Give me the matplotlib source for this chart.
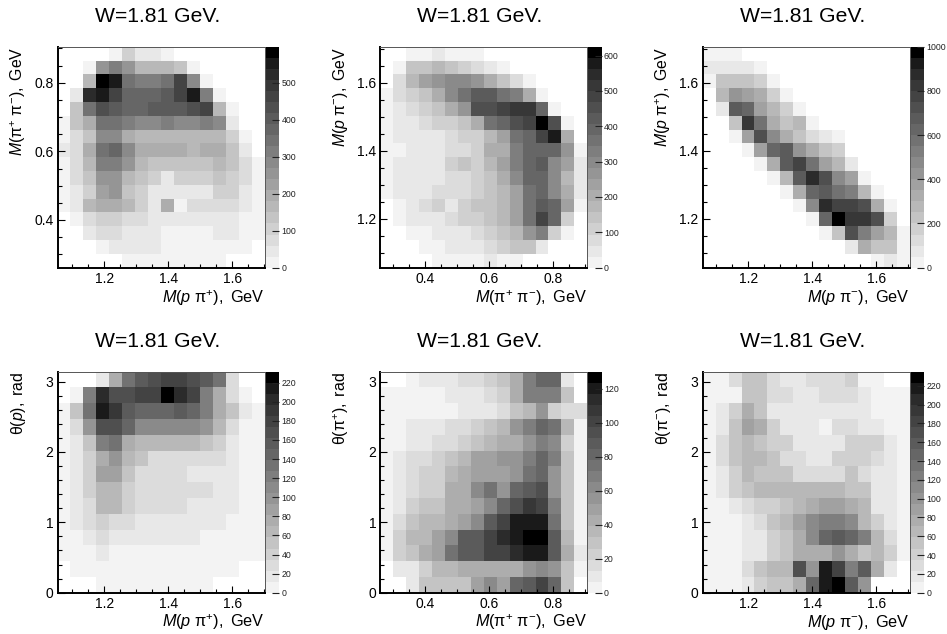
import numpy as np
import matplotlib
matplotlib.use("Agg")
import matplotlib.pyplot as plt
from matplotlib.colors import ListedColormap, BoundaryNorm
from matplotlib.ticker import MultipleLocator, FormatStrFormatter

plt.rcParams['font.family'] = ['Liberation Sans', 'DejaVu Sans']
plt.rcParams['mathtext.fontset'] = 'custom'
plt.rcParams['mathtext.rm'] = 'Liberation Sans'
plt.rcParams['mathtext.it'] = 'Liberation Sans:italic'
plt.rcParams['mathtext.bf'] = 'Liberation Sans:bold'

TITLE = "W=1.81 GeV."
N_BANDS = 20
SHADES = ['#f3f3f3','#e8e8e8','#dcdcdc','#d0d0d0','#c4c4c4','#b8b8b8','#adadad','#a1a1a1','#959595','#8a8a8a',
          '#7e7e7e','#727272','#666666','#5b5b5b','#4f4f4f','#434343','#373737','#2b2b2b','#1a1a1a','#000000']

# Each grid: rows listed top to bottom, cells given as palette band (0 = empty)
grid_ppip_pippim = [
 [0,0,0,0,1,4,2,2,1,0,0,0,0,0,0,0],
 [0,0,1,9,11,9,6,6,6,5,1,0,0,0,0,0],
 [0,0,6,20,19,12,11,11,12,16,10,1,0,0,0,0],
 [0,2,18,19,16,13,13,13,14,16,19,11,1,0,0,0],
 [0,5,12,15,14,13,13,14,14,14,15,16,6,1,0,0],
 [1,5,7,12,12,11,10,10,11,10,10,11,10,2,0,0],
 [1,3,5,10,10,7,6,6,6,6,6,6,6,4,1,0],
 [2,3,7,12,13,10,7,7,7,7,6,7,7,5,2,0],
 [1,3,6,11,11,9,6,5,5,5,5,5,6,5,3,1],
 [1,3,5,9,9,6,5,4,2,4,4,4,5,4,3,1],
 [1,2,4,8,9,5,4,2,2,2,2,2,4,4,2,1],
 [1,2,6,7,7,6,4,2,7,1,3,3,3,3,2,1],
 [0,1,3,4,4,3,3,2,2,2,2,2,2,2,1,1],
 [0,0,2,3,3,2,2,2,1,1,1,1,2,2,1,1],
 [0,0,0,1,2,2,2,2,1,1,1,1,1,1,1,0],
 [0,0,0,0,0,1,1,1,1,1,1,1,1,0,0,0],
]
grid_pippim_ppim = [
 [0,0,1,1,2,1,1,1,0,0,0,0,0,0,0,0],
 [0,1,5,5,6,5,4,3,2,1,0,0,0,0,0,0],
 [0,3,6,8,9,10,10,9,7,5,3,1,0,0,0,0],
 [1,3,4,5,7,10,12,14,14,12,11,7,1,0,0,0],
 [1,2,3,4,5,7,9,15,15,16,17,17,13,1,0,0],
 [1,2,2,3,4,4,5,7,12,13,15,16,20,15,1,0],
 [1,2,2,2,2,3,4,4,6,8,12,13,16,19,7,0],
 [1,1,2,2,2,3,3,4,7,7,11,13,13,13,9,1],
 [1,2,2,2,2,4,5,4,6,8,11,13,14,10,8,2],
 [1,2,2,2,2,3,3,4,5,7,10,13,13,10,6,2],
 [1,2,2,2,3,3,3,4,5,6,8,12,13,10,7,2],
 [0,1,2,3,4,2,4,5,5,6,8,12,14,13,8,1],
 [0,1,2,2,2,3,4,4,5,6,8,12,16,13,4,0],
 [0,0,1,1,2,2,2,3,4,5,6,9,11,4,1,0],
 [0,0,0,1,1,2,2,2,3,4,5,5,2,0,0,0],
 [0,0,0,0,1,1,1,1,2,1,1,0,0,0,0,0],
]
grid_ppim_ppip = [
 [1,1,1,0,0,0,0,0,0,0,0,0,0,0,0,0],
 [2,2,2,2,1,0,0,0,0,0,0,0,0,0,0,0],
 [1,5,5,5,4,1,0,0,0,0,0,0,0,0,0,0],
 [0,6,9,8,7,4,1,0,0,0,0,0,0,0,0,0],
 [0,2,14,13,8,6,4,1,0,0,0,0,0,0,0,0],
 [0,0,5,17,12,7,5,6,1,0,0,0,0,0,0,0],
 [0,0,1,8,15,10,7,5,3,2,1,0,0,0,0,0],
 [0,0,0,1,8,13,14,9,7,5,4,0,0,0,0,0],
 [0,0,0,0,1,7,14,16,12,8,6,2,0,0,0,0],
 [0,0,0,0,0,1,6,14,18,15,10,8,1,0,0,0],
 [0,0,0,0,0,0,1,7,13,14,12,11,6,1,0,0],
 [0,0,0,0,0,0,0,1,10,18,16,16,15,7,1,0],
 [0,0,0,0,0,0,0,0,1,13,20,17,17,15,4,0],
 [0,0,0,0,0,0,0,0,0,1,5,15,11,8,6,1],
 [0,0,0,0,0,0,0,0,0,0,0,2,7,5,5,1],
 [0,0,0,0,0,0,0,0,0,0,0,0,0,1,2,1],
]
grid_ppip_thp = [
 [0,0,0,2,7,12,14,15,16,16,15,14,12,3,0,0],
 [0,1,11,18,15,15,16,16,20,18,16,11,7,3,1,0],
 [1,5,12,19,17,14,13,13,13,14,13,11,7,5,2,1],
 [1,3,9,15,15,13,10,10,10,10,10,9,6,3,1,1],
 [1,2,5,11,12,7,6,6,6,6,6,5,4,2,1,1],
 [1,2,4,7,9,6,5,3,3,3,3,3,3,2,1,1],
 [1,2,4,8,8,5,3,3,3,3,2,2,2,2,1,1],
 [1,2,4,6,6,4,3,3,3,3,3,3,2,2,1,1],
 [1,2,3,6,6,4,3,3,3,3,2,2,2,2,1,1],
 [1,2,3,4,3,3,2,2,2,2,2,2,2,1,1,1],
 [1,1,2,3,2,2,2,2,2,2,2,1,1,1,1,1],
 [1,1,1,2,1,1,1,1,1,1,1,1,1,1,1,1],
 [0,1,1,1,1,1,1,1,1,1,1,1,1,1,0,0],
 [0,0,0,1,1,1,1,1,1,1,1,1,0,0,0,0],
]
grid_pippim_thpip = [
 [0,0,1,2,2,2,3,3,4,5,7,11,13,13,2,0],
 [1,1,1,1,1,2,2,2,3,4,7,11,11,11,5,0],
 [1,1,1,1,1,1,2,2,2,3,5,6,9,4,3,3],
 [1,1,2,2,2,3,3,4,5,6,9,11,13,12,6,1],
 [1,1,2,2,3,3,4,5,6,7,7,9,11,10,4,1],
 [1,2,3,3,4,5,6,8,8,9,9,11,13,11,5,1],
 [1,2,3,4,4,6,7,8,8,8,9,12,13,9,5,1],
 [1,2,3,4,4,7,7,10,12,9,13,14,15,9,5,1],
 [1,2,4,5,5,7,7,8,10,13,15,17,16,11,5,1],
 [1,3,5,6,6,7,8,10,14,16,19,19,19,12,5,1],
 [1,4,6,6,8,10,14,14,16,18,19,20,20,14,6,1],
 [1,4,5,7,8,12,14,14,16,16,18,19,19,14,7,2],
 [0,2,2,4,6,6,7,7,7,7,7,9,10,9,5,1],
 [0,0,2,5,5,5,5,8,10,8,13,14,16,13,5,0],
]
grid_ppim_thpim = [
 [1,1,3,5,5,3,2,2,3,3,3,4,1,1,0,0],
 [1,1,1,5,5,3,3,2,2,3,3,3,2,1,1,1],
 [1,2,4,7,5,2,2,2,2,2,2,2,2,1,1,1],
 [1,2,5,8,7,4,2,2,2,1,3,3,2,2,1,1],
 [1,3,5,6,5,4,4,2,2,2,2,4,4,4,2,1],
 [1,3,5,6,6,5,3,3,2,2,4,4,4,3,2,1],
 [1,2,4,6,5,5,5,3,3,3,3,5,3,2,2,1],
 [1,2,4,5,6,6,6,6,6,6,6,5,5,2,2,1],
 [1,1,2,3,4,4,5,6,7,8,8,7,6,2,2,1],
 [1,1,1,2,3,5,6,8,10,11,11,10,6,4,2,1],
 [1,1,1,2,2,4,5,7,10,13,14,13,11,6,3,1],
 [1,1,1,2,2,4,5,7,7,7,9,7,5,6,4,1],
 [1,1,1,3,5,6,6,15,9,19,16,11,14,7,2,0],
 [1,1,1,2,4,5,5,7,13,19,20,14,9,0,0,0],
]

grids = [grid_ppip_pippim, grid_pippim_ppim, grid_ppim_ppip,
         grid_ppip_thp, grid_pippim_thpip, grid_ppim_thpim]
z_tops = [597, 625, 1000, 231.5, 130, 235]
z_steps = [100, 100, 200, 20, 20, 20]
x_ranges = [(1.054, 1.703), (0.259, 0.906), (1.058, 1.705), (1.054, 1.703), (0.259, 0.906), (1.058, 1.705)]
y_ranges = [(0.261, 0.905), (1.056, 1.706), (1.056, 1.706), (0, 3.14), (0, 3.14), (0, 3.14)]
x_labels = [r'$\mathit{M(p}\ \mathrm{\pi^{+}}\mathit{)}\mathrm{,\ GeV}$',
            r'$\mathit{M(}\mathrm{\pi^{+}\ \pi^{-}}\mathit{)}\mathrm{,\ GeV}$',
            r'$\mathit{M(p}\ \mathrm{\pi^{-}}\mathit{)}\mathrm{,\ GeV}$'] * 2
y_labels = [r'$\mathit{M(}\mathrm{\pi^{+}\ \pi^{-}}\mathit{)}\mathrm{,\ GeV}$',
            r'$\mathit{M(p}\ \mathrm{\pi^{-}}\mathit{)}\mathrm{,\ GeV}$',
            r'$\mathit{M(p}\ \mathrm{\pi^{+}}\mathit{)}\mathrm{,\ GeV}$',
            r'$\mathrm{\theta(}\mathit{p}\mathrm{),\ rad}$',
            r'$\mathrm{\theta(\pi^{+}),\ rad}$',
            r'$\mathrm{\theta(\pi^{-}),\ rad}$']

W, H = 947, 634
# pixel boxes (left, right, top, bottom) of plots, and colour bars (left, right)
lefts = [57.5, 380.3, 702.7] * 2
rights = [265, 587.3, 909.7] * 2
tops = [46.7] * 3 + [371.7] * 3
bottoms = [267.7] * 3 + [592.7] * 3
cb_lefts = [266, 588, 911] * 2
cb_rights = [279.3, 601.7, 924.3] * 2

fig = plt.figure(figsize=(W / 100, H / 100), dpi=100)
cmap = ListedColormap(SHADES)
cmap.set_bad('white')

def ax_box(l, r, t, b):
    return [l / W, 1 - b / H, (r - l) / W, (b - t) / H]

for i in range(6):
    ax = fig.add_axes(ax_box(lefts[i], rights[i], tops[i], bottoms[i]))
    top = z_tops[i]
    band = top / N_BANDS
    z = np.array(grids[i], dtype=float)[::-1] * band - band / 2
    z = np.ma.masked_less(z, 0)
    norm = BoundaryNorm(np.linspace(0, top, N_BANDS + 1), N_BANDS)
    xe = np.linspace(*x_ranges[i], z.shape[1] + 1)
    ye = np.linspace(*y_ranges[i], z.shape[0] + 1)
    ax.pcolormesh(xe, ye, z, cmap=cmap, norm=norm, linewidth=0, antialiased=False)
    ax.set_xlim(x_ranges[i])
    ax.set_ylim(y_ranges[i])
    ax.xaxis.set_major_locator(MultipleLocator(0.2))
    ax.xaxis.set_minor_locator(MultipleLocator(0.05))
    ax.xaxis.set_major_formatter(FormatStrFormatter('%.1f'))
    if i < 3:
        ax.yaxis.set_major_locator(MultipleLocator(0.2))
        ax.yaxis.set_minor_locator(MultipleLocator(0.05))
        ax.yaxis.set_major_formatter(FormatStrFormatter('%.1f'))
    else:
        ax.yaxis.set_major_locator(MultipleLocator(1))
        ax.yaxis.set_minor_locator(MultipleLocator(0.2))
        ax.yaxis.set_major_formatter(FormatStrFormatter('%d'))
    ax.tick_params(which='major', direction='in', length=5, width=0.8, labelsize=10, pad=3)
    ax.tick_params(which='minor', direction='in', length=2.6, width=0.8)
    for s in ('left', 'bottom'):
        ax.spines[s].set_linewidth(1.4)
    for s in ('top', 'right'):
        ax.spines[s].set_linewidth(0.7)
        ax.spines[s].set_color('#555555')
    ax.set_axisbelow(False)

    fig.text(((lefts[i] + rights[i]) / 2 - 4) / W, 1 - (tops[i] - 30) / H, TITLE,
             fontsize=15.2, ha='center', va='center')
    fig.text(rights[i] / W, 1 - (bottoms[i] + 30) / H, x_labels[i], fontsize=11.7, ha='right', va='center')
    fig.text((lefts[i] - 39.5) / W, 1 - tops[i] / H, y_labels[i], fontsize=11.4, rotation=90,
             ha='center', va='top')

    cax = fig.add_axes(ax_box(cb_lefts[i], cb_rights[i], tops[i], bottoms[i]))
    cedges = np.linspace(0, top, N_BANDS + 1)
    centres = ((cedges[:-1] + cedges[1:]) / 2)[:, None]
    cax.pcolormesh([0, 1], cedges, centres, cmap=cmap, norm=norm, linewidth=0, antialiased=False)
    cax.set_xlim(0, 1)
    cax.set_ylim(0, top)
    cax.set_xticks([])
    cax.yaxis.tick_right()
    cax.yaxis.set_major_locator(MultipleLocator(z_steps[i]))
    cax.tick_params(axis='y', direction='in', length=5, width=0.8, labelsize=6.3, pad=1.5, colors='#222222')
    for s in cax.spines.values():
        s.set_visible(False)

fig.savefig('out.png', dpi=100)
